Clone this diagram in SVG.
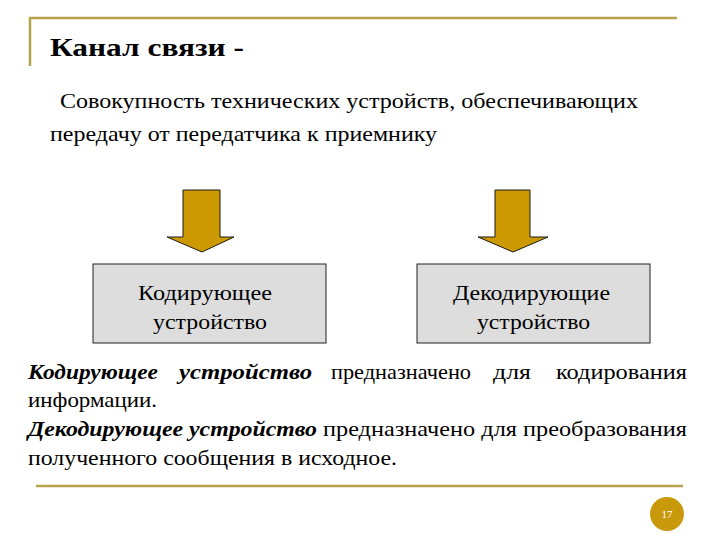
<svg xmlns="http://www.w3.org/2000/svg" width="720" height="540" viewBox="0 0 720 540">
<style>
text{font-family:'Liberation Serif','Noto Serif','DejaVu Serif','Liberation Sans',serif;fill:#000}
.body{font-size:22px}
.bi{font-weight:bold;font-style:italic}
.rule{stroke:#B5A24A;stroke-width:2.5;fill:none}
.arrow{fill:#CC9900;stroke:#1a1a1a;stroke-width:1}
.box{fill:#DDDDDD;stroke:#222;stroke-width:1}
</style>
<rect width="720" height="540" fill="#fff"/>
<g id="frame">
<path class="rule" d="M30 66 V18 H677"/>
<line class="rule" x1="36" y1="486" x2="683" y2="486"/>
</g>
<g id="title">
<text x="50" y="56" font-size="26" font-weight="bold" textLength="194" lengthAdjust="spacingAndGlyphs">Канал связи -</text>
<text class="body" x="60" y="108" textLength="578" lengthAdjust="spacingAndGlyphs">Совокупность технических устройств, обеспечивающих</text>
<text class="body" x="50" y="141" textLength="387" lengthAdjust="spacingAndGlyphs">передачу от передатчика к приемнику</text>
</g>
<g id="connectors">
<polygon class="arrow" points="183,190 220,190 220,237 234,237 202,252 167,237 183,237"/>
<polygon class="arrow" points="495,190 530,190 530,237 548,237 513,252 478,237 495,237"/>
</g>
<g id="node-coder">
<rect class="box" x="93" y="264" width="233" height="79"/>
<text class="body" x="138" y="300" textLength="134" lengthAdjust="spacingAndGlyphs">Кодирующее</text>
<text class="body" x="153" y="329" textLength="114" lengthAdjust="spacingAndGlyphs">устройство</text>
</g>
<g id="node-decoder">
<rect class="box" x="417" y="264" width="233" height="79"/>
<text class="body" x="453" y="300" textLength="157" lengthAdjust="spacingAndGlyphs">Декодирующие</text>
<text class="body" x="477" y="329" textLength="113" lengthAdjust="spacingAndGlyphs">устройство</text>
</g>
<g id="description">
<text class="body bi" x="28" y="379" textLength="130" lengthAdjust="spacingAndGlyphs">Кодирующее</text>
<text class="body bi" x="179" y="379" textLength="133" lengthAdjust="spacingAndGlyphs">устройство</text>
<text class="body" x="331" y="379" textLength="140" lengthAdjust="spacingAndGlyphs">предназначено</text>
<text class="body" x="493" y="379" textLength="38" lengthAdjust="spacingAndGlyphs">для</text>
<text class="body" x="556" y="379" textLength="131" lengthAdjust="spacingAndGlyphs">кодирования</text>
<text class="body" x="28" y="407" textLength="129" lengthAdjust="spacingAndGlyphs">информации.</text>
<text class="body bi" x="28" y="436" textLength="289" lengthAdjust="spacingAndGlyphs">Декодирующее устройство</text>
<text class="body" x="323" y="436" textLength="364" lengthAdjust="spacingAndGlyphs">предназначено для преобразования</text>
<text class="body" x="28" y="465" textLength="369" lengthAdjust="spacingAndGlyphs">полученного сообщения в исходное.</text>
</g>
<g id="page-number">
<circle cx="667" cy="514" r="17" fill="#C9990C"/>
<text x="667" y="518" font-size="11" style="fill:#fff" text-anchor="middle">17</text>
</g>
</svg>
